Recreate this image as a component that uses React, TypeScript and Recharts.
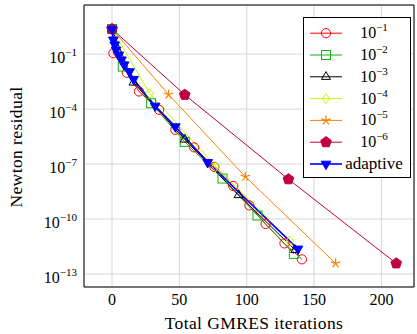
import React from 'react';
import { LineChart, Line, XAxis, YAxis, CartesianGrid, ReferenceArea } from 'recharts';

// iterations (x) and Newton residuals (y) per inner tolerance
const iters1 = [0, 1, 11, 20, 35, 47, 61, 76, 90, 102, 114, 128, 141];
const res1 = [2.34, 1.12e-1, 9.55e-3, 9.12e-4, 9.12e-5, 7.41e-6, 8.13e-7, 6.92e-8, 6.31e-9, 5.5e-10, 5.37e-11, 4.68e-12, 6.31e-13];

const iters2 = [0, 8, 29, 54, 82, 108, 135];
const res2 = [2.34, 2.09e-2, 2.09e-4, 1.62e-6, 1.62e-8, 1.55e-10, 1.26e-12];

const iters3 = [0, 16, 54, 94, 136];
const res3 = [2.34, 2.82e-3, 2.19e-6, 2.04e-9, 2.04e-12];

const iters4 = [0, 28, 77, 132];
const res4 = [2.34, 7.08e-4, 7.24e-8, 6.31e-12];

const iters5 = [0, 42, 99, 166];
const res5 = [2.34, 6.17e-4, 2.04e-8, 3.8e-13];

const iters6 = [0, 54, 131, 211];
const res6 = [2.34, 6.03e-4, 1.48e-8, 3.8e-13];

const itersAdaptive = [0, 1, 2, 3, 5, 7, 9, 13, 16, 32, 47, 71, 138];
const resAdaptive = [2.34, 6.03e-1, 3.24e-1, 1.7e-1, 9.12e-2, 4.9e-2, 2.63e-2, 1.12e-2, 4.27e-3, 1.48e-4, 1.1e-5, 1.23e-7, 2.34e-12];

const xTicks = [0, 50, 100, 150, 200];
const yTicks = [1e-1, 1e-4, 1e-7, 1e-10, 1e-13];
const yTickExps = ['−1', '−4', '−7', '−10', '−13'];

const xDomain = [-20.8, 224.2];
const yDomain = [Math.pow(10, -13.71), Math.pow(10, 1.68)];

const FONT = '"Liberation Serif", "DejaVu Serif", serif';

type Shape = 'circle' | 'square' | 'triangle' | 'diamond' | 'star' | 'pentagon' | 'tridown';

const toPoints = (xs: number[], ys: number[]) => xs.map((x, i) => ({ x, y: ys[i] }));

const series: { name: string; exp?: string; color: string; shape: Shape; width: number; data: { x: number; y: number }[] }[] = [
  { name: '1e-1', exp: '−1', color: '#ff0000', shape: 'circle', width: 1, data: toPoints(iters1, res1) },
  { name: '1e-2', exp: '−2', color: '#13b013', shape: 'square', width: 1, data: toPoints(iters2, res2) },
  { name: '1e-3', exp: '−3', color: '#000000', shape: 'triangle', width: 1, data: toPoints(iters3, res3) },
  { name: '1e-4', exp: '−4', color: '#bfff00', shape: 'diamond', width: 1, data: toPoints(iters4, res4) },
  { name: '1e-5', exp: '−5', color: '#ff8000', shape: 'star', width: 1, data: toPoints(iters5, res5) },
  { name: '1e-6', exp: '−6', color: '#bf0040', shape: 'pentagon', width: 1, data: toPoints(iters6, res6) },
  { name: 'adaptive', color: '#0000ff', shape: 'tridown', width: 1.6, data: toPoints(itersAdaptive, resAdaptive) },
];

function polyPoints(cx: number, cy: number, r: number, n: number, start: number) {
  const pts: string[] = [];
  for (let k = 0; k < n; k++) {
    const a = ((start + (360 / n) * k) * Math.PI) / 180;
    pts.push(`${cx + r * Math.cos(a)},${cy + r * Math.sin(a)}`);
  }
  return pts.join(' ');
}

function Marker({ shape, color, cx, cy }: { shape: Shape; color: string; cx: number; cy: number }) {
  switch (shape) {
    case 'circle':
      return <circle cx={cx} cy={cy} r={4.6} fill="none" stroke={color} strokeWidth={1} />;
    case 'square':
      return <rect x={cx - 4.5} y={cy - 4.5} width={9} height={9} fill="none" stroke={color} strokeWidth={1} />;
    case 'triangle':
      return <polygon points={polyPoints(cx, cy, 5.2, 3, -90)} fill="none" stroke={color} strokeWidth={1} />;
    case 'diamond':
      return (
        <polygon
          points={`${cx},${cy - 5} ${cx + 3.8},${cy} ${cx},${cy + 5} ${cx - 3.8},${cy}`}
          fill="none"
          stroke={color}
          strokeWidth={1}
        />
      );
    case 'star': {
      const lines = [];
      for (let k = 0; k < 5; k++) {
        const a = ((-90 + 72 * k) * Math.PI) / 180;
        lines.push(<line key={k} x1={cx} y1={cy} x2={cx + 5 * Math.cos(a)} y2={cy + 5 * Math.sin(a)} stroke={color} strokeWidth={1.2} />);
      }
      return <g>{lines}</g>;
    }
    case 'pentagon':
      return <polygon points={polyPoints(cx, cy, 5.6, 5, -90)} fill={color} stroke={color} strokeWidth={1} />;
    case 'tridown':
      return <polygon points={polyPoints(cx, cy, 5.6, 3, 90)} fill={color} stroke={color} strokeWidth={1} />;
  }
  return null;
}

function YTick(props: any) {
  const { x, y, index } = props;
  return (
    <text x={x} y={y} textAnchor="end" fontFamily={FONT} fontSize={16} fill="#000">
      <tspan dy={9}>10</tspan>
      <tspan dy={-7} fontSize={11}>{yTickExps[index]}</tspan>
    </text>
  );
}

function Legend() {
  return (
    <svg
      width={108}
      height={161}
      style={{ position: 'absolute', left: 303, top: 17, background: '#fff', border: '1px solid #000', boxSizing: 'border-box' }}
    >
      {series.map((s, i) => {
        const cy = 15.2 + i * 21.8;
        return (
          <g key={s.name}>
            <line x1={6} x2={38} y1={cy} y2={cy} stroke={s.color} strokeWidth={s.width} />
            <Marker shape={s.shape} color={s.color} cx={22} cy={cy} />
            <text x={70} y={cy + 5} textAnchor="middle" fontFamily={FONT} fontSize={s.exp ? 16 : 17} fill="#000">
              {s.exp ? (
                <>
                  <tspan>10</tspan>
                  <tspan dy={-7} fontSize={11}>{s.exp}</tspan>
                </>
              ) : (
                s.name
              )}
            </text>
          </g>
        );
      })}
    </svg>
  );
}

export default function App() {
  return (
    <div style={{ position: 'absolute', left: 0, top: 0, width: 417, height: 334, background: '#fff' }}>
      <LineChart width={417} height={334} margin={{ top: 5, right: 3, left: 0, bottom: 0 }}>
        <CartesianGrid stroke="#d6d6d6" strokeWidth={1} />
        <XAxis
          type="number"
          dataKey="x"
          domain={xDomain}
          ticks={xTicks}
          allowDataOverflow
          height={47}
          axisLine={false}
          tickLine={false}
          tickSize={0}
          tickMargin={7}
          tick={{ fontSize: 16, fontFamily: FONT, fill: '#000' }}
          label={{
            content: (p: any) => (
              <text
                x={p.viewBox.x + p.viewBox.width / 2 + 5}
                y={329}
                textAnchor="middle"
                fontFamily={FONT}
                fontSize={17.5}
                letterSpacing={0.4}
                fill="#000"
              >
                Total GMRES iterations
              </text>
            ),
          }}
        />
        <YAxis
          type="number"
          dataKey="y"
          scale="log"
          domain={yDomain}
          ticks={yTicks}
          allowDataOverflow
          width={84}
          axisLine={false}
          tickLine={false}
          tickSize={0}
          tickMargin={7}
          tick={<YTick />}
          label={{
            content: (p: any) => {
              const cy = p.viewBox.y + p.viewBox.height / 2 + 1;
              return (
                <text
                  x={22}
                  y={cy}
                  transform={`rotate(-90, 22, ${cy})`}
                  textAnchor="middle"
                  fontFamily={FONT}
                  fontSize={17.5}
                  letterSpacing={0.4}
                  fill="#000"
                >
                  Newton residual
                </text>
              );
            },
          }}
        />
        {series.map((s) => (
          <Line
            key={s.name}
            data={s.data}
            dataKey="y"
            name={s.name}
            type="linear"
            stroke={s.color}
            strokeWidth={s.width}
            isAnimationActive={false}
            dot={(p: any) => <Marker key={`${s.name}-${p.index}`} shape={s.shape} color={s.color} cx={p.cx} cy={p.cy} />}
            activeDot={false}
          />
        ))}
        <ReferenceArea
          x1={xDomain[0]}
          x2={xDomain[1]}
          y1={yDomain[0]}
          y2={yDomain[1]}
          fill="none"
          stroke="#000"
          strokeWidth={1}
          ifOverflow="visible"
        />
      </LineChart>
      <Legend />
    </div>
  );
}
